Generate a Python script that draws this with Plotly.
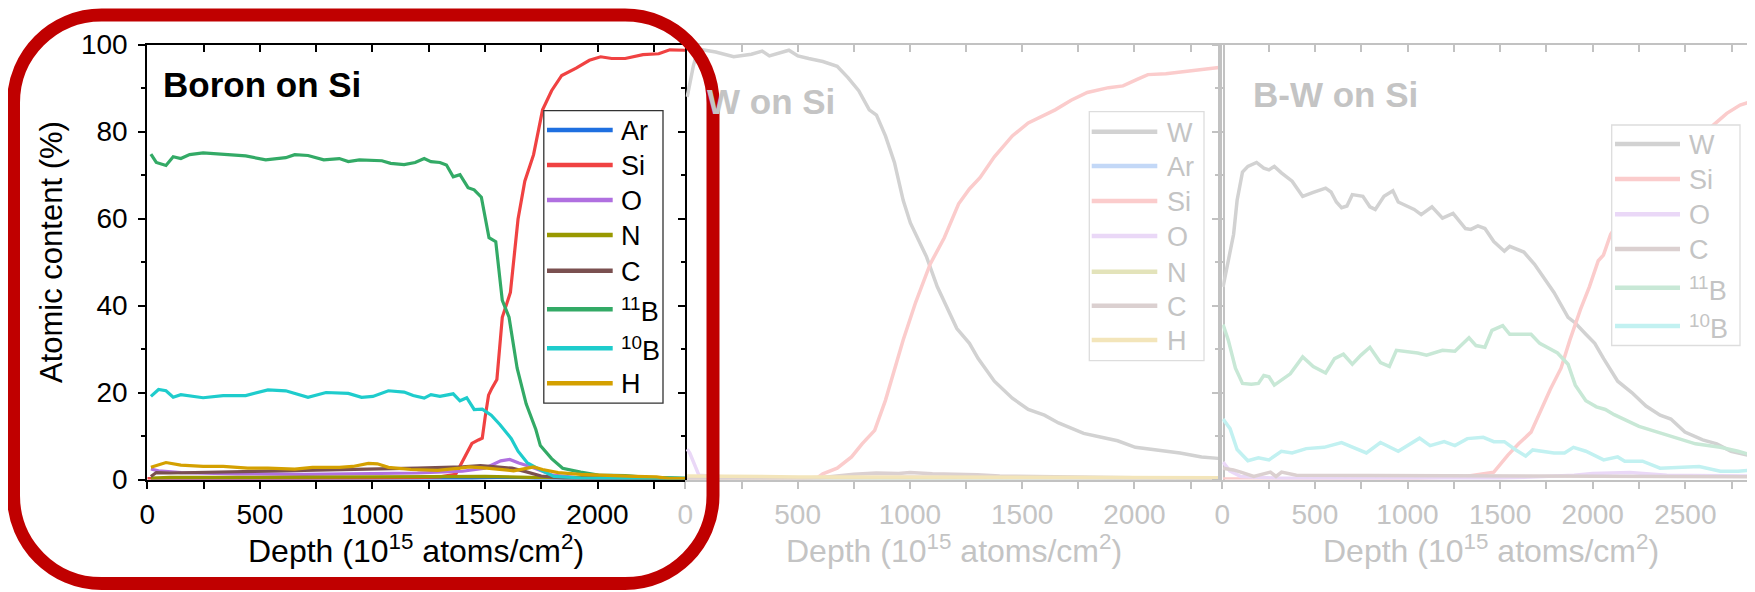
import plotly.graph_objects as go

# ---------------- data ----------------
# Panel 1: Boron on Si
p1_ar_x = [16, 500, 1000, 1400, 1550, 1650, 1750, 1900, 2390]
p1_ar_y = [0.05, 0.05, 0.1, 0.2, 0.4, 0.4, 0.2, 0.1, 0.05]
p1_si_x = [0, 200, 400, 600, 800, 1000, 1200, 1300, 1370, 1405, 1442, 1471, 1488, 1501, 1516, 1531, 1553,
           1577, 1613, 1647, 1677, 1716, 1756, 1796, 1841, 1905, 1964, 2014, 2063, 2123, 2202, 2272, 2321, 2390]
p1_si_y = [0.2, 0.2, 0.2, 0.2, 0.3, 0.3, 0.4, 0.6, 1.2, 4.5, 8.3, 9.1, 9.5, 14.4, 19.4, 21.0, 23.0,
           37.3, 43.0, 59.9, 68.6, 74.7, 85.0, 89.4, 92.9, 94.6, 96.4, 97.2, 96.8, 96.8, 97.7, 97.9, 98.8, 98.7]
p1_o_x = [16, 50, 150, 400, 700, 1000, 1200, 1400, 1500, 1570, 1610, 1650, 1700, 1750, 1800, 1900, 2100, 2390]
p1_o_y = [2.4, 2.0, 1.6, 1.3, 1.2, 1.3, 1.5, 1.9, 2.6, 4.3, 4.6, 3.8, 3.0, 2.0, 1.0, 0.5, 0.3, 0.2]
p1_n_x = [16, 100, 500, 1000, 1500, 1700, 2000, 2390]
p1_n_y = [0.3, 0.5, 0.5, 0.6, 0.7, 0.5, 0.3, 0.2]
p1_c_x = [16, 40, 100, 200, 400, 600, 800, 1000, 1200, 1400, 1480, 1550, 1620, 1680, 1750, 1850, 2000, 2390]
p1_c_y = [0.7, 1.6, 1.5, 1.6, 1.8, 2.0, 2.1, 2.3, 2.6, 2.9, 3.2, 2.9, 2.6, 1.8, 0.8, 0.3, 0.2, 0.1]
p1_b11_x = [16, 40, 83, 115, 149, 188, 248, 337, 437, 526, 615, 655, 714, 784, 853, 893, 942, 1042, 1081, 1141,
            1190, 1230, 1260, 1300, 1329, 1359, 1389, 1425, 1452, 1484, 1518, 1548, 1577, 1607, 1643, 1683, 1726,
            1746, 1796, 1845, 1925, 2004, 2123, 2222, 2390]
p1_b11_y = [74.8, 72.9, 72.2, 74.2, 73.8, 74.7, 75.1, 74.7, 74.4, 73.5, 74.0, 74.7, 74.5, 73.5, 73.8, 73.1, 73.5,
            73.3, 72.7, 72.4, 72.9, 73.8, 73.1, 72.9, 72.3, 69.6, 70.1, 67.1, 66.6, 64.9, 55.6, 54.7, 41.2, 37.3,
            25.6, 17.4, 11.5, 7.8, 4.8, 2.6, 1.7, 1.0, 0.9, 0.5, 0.35]
p1_b10_x = [16, 50, 83, 115, 149, 248, 337, 437, 536, 615, 714, 794, 893, 952, 1002, 1071, 1141, 1181, 1230, 1260,
            1300, 1359, 1389, 1419, 1452, 1488, 1528, 1567, 1617, 1647, 1687, 1746, 1806, 1925, 2123, 2390]
p1_b10_y = [19.1, 20.7, 20.4, 18.9, 19.5, 18.8, 19.3, 19.3, 20.6, 20.4, 18.9, 20.0, 19.8, 18.9, 19.1, 20.4, 20.1,
            19.3, 18.7, 19.5, 19.1, 19.7, 18.1, 18.8, 16.1, 16.2, 14.8, 12.6, 9.4, 6.5, 3.9, 2.2, 0.7, 0.35, 0.26, 0.2]
p1_h_x = [16, 83, 149, 248, 337, 446, 536, 655, 734, 853, 913, 982, 1022, 1071, 1171, 1290, 1389, 1429, 1508,
          1627, 1667, 1716, 1756, 1825, 1925, 2044, 2163, 2262, 2321, 2390]
p1_h_y = [2.8, 3.9, 3.3, 3.0, 3.0, 2.6, 2.6, 2.4, 2.8, 2.8, 3.0, 3.7, 3.6, 2.8, 2.3, 2.1, 2.6, 2.9, 2.6,
          2.0, 2.4, 2.9, 2.3, 1.6, 1.2, 0.9, 0.7, 0.6, 0.2, 0.2]

# Panel 2: W on Si
p2_w_x = [8, 35, 56, 135, 215, 294, 342, 374, 461, 501, 549, 612, 676, 724, 772, 819, 851, 891, 931, 970, 1002,
          1034, 1074, 1122, 1161, 1209, 1265, 1304, 1376, 1456, 1527, 1599, 1662, 1710, 1774, 1853, 1925, 2004,
          2076, 2203, 2299, 2386]
p2_w_y = [88, 95, 99, 98.3, 97.2, 97.8, 98.5, 97.4, 98.7, 97.4, 96.8, 96.1, 95, 92.4, 89.4, 85, 83.8, 79, 72.9,
          64.2, 59, 55.6, 51.2, 44.3, 39.9, 34.7, 31.3, 27.8, 22.6, 18.7, 16.1, 14.8, 13, 11.9, 10.6, 9.7, 8.9,
          7.4, 6.9, 6.1, 5.2, 4.8]
p2_ar_x = [8, 500, 1000, 1500, 2000, 2386]
p2_ar_y = [0.1, 0.1, 0.2, 0.2, 0.1, 0.1]
p2_si_x = [8, 300, 500, 590, 612, 676, 740, 787, 843, 891, 931, 970, 1026, 1090, 1153, 1217, 1265, 1312, 1376,
           1456, 1527, 1599, 1647, 1718, 1790, 1885, 1949, 2012, 2060, 2140, 2235, 2315, 2386]
p2_si_y = [0.1, 0.1, 0.2, 0.5, 1.3, 2.6, 5.2, 8.2, 11.3, 18.2, 25.2, 32.1, 40.8, 49.5, 55.6, 63.4, 66.8, 69.4,
           74.2, 79, 82, 83.8, 85, 87.2, 89, 90.1, 90.5, 92, 93.1, 93.3, 93.9, 94.4, 94.8]
p2_o_x = [8, 20, 60, 200, 600, 1000, 1400, 1800, 2386]
p2_o_y = [7, 6, 1, 0.5, 0.4, 0.6, 0.5, 0.3, 0.3]
p2_n_x = [8, 500, 1000, 1500, 2000, 2386]
p2_n_y = [0.4, 0.3, 0.3, 0.3, 0.2, 0.2]
p2_c_x = [8, 100, 300, 600, 750, 850, 950, 1000, 1100, 1200, 1300, 1400, 1600, 2000, 2386]
p2_c_y = [0.3, 0.3, 0.3, 0.4, 1.2, 1.5, 1.4, 1.6, 1.3, 1.2, 1.1, 0.8, 0.6, 0.4, 0.3]
p2_h_x = [8, 500, 1000, 1500, 2000, 2386]
p2_h_y = [0.8, 0.6, 0.6, 0.5, 0.4, 0.4]

# Panel 3: B-W on Si
p3_w_x = [4, 32, 61, 80, 109, 138, 185, 224, 252, 281, 319, 377, 434, 491, 558, 587, 616, 644, 673, 702, 759, 797,
          826, 873, 921, 950, 1036, 1074, 1132, 1189, 1246, 1313, 1342, 1380, 1418, 1466, 1523, 1552, 1628, 1686,
          1734, 1791, 1867, 1906, 1963, 2011, 2059, 2135, 2211, 2288, 2364, 2422, 2498, 2594, 2670, 2747, 2877]
p3_w_y = [44.3, 50.3, 56.4, 64.2, 70.7, 72, 72.9, 71.6, 71.2, 72, 70.5, 68.6, 65.1, 66, 67, 66.1, 63.8, 62.5, 62.9,
          65.5, 65.1, 62.7, 62.1, 65.1, 66.4, 63.8, 62.1, 60.9, 62.7, 60.1, 61.2, 57.7, 57.5, 58.3, 57.7, 54.7, 52.5,
          53.6, 52.3, 49.5, 46.4, 43, 37.3, 36, 33.4, 31.3, 27.8, 22.6, 20, 16.9, 14.8, 13.9, 10.9, 9.1, 8.2, 6.5, 5.2]
p3_si_x = [4, 500, 1000, 1313, 1466, 1542, 1600, 1667, 1724, 1772, 1829, 1877, 1934, 1982, 2030, 2058, 2097, 2200,
           2300, 2400, 2500, 2600, 2651, 2724, 2796, 2877]
p3_si_y = [0.1, 0.1, 0.2, 0.7, 1.7, 5.6, 8.2, 10.9, 16.5, 20.8, 25.6, 32.1, 39.1, 44.3, 50.3, 51.6, 56.4, 63, 69,
           73, 76.5, 79.5, 81.5, 84.2, 86.1, 87.2]
p3_o_x = [4, 40, 100, 300, 800, 1500, 1900, 2000, 2200, 2400, 2877]
p3_o_y = [4.0, 2.0, 0.7, 0.3, 0.3, 0.3, 1.0, 1.4, 1.6, 1.0, 0.8]
p3_c_x = [4, 60, 100, 170, 260, 290, 320, 400, 800, 1500, 2000, 2400, 2877]
p3_c_y = [2.6, 2.2, 1.7, 0.7, 1.7, 0.7, 1.7, 1.0, 0.9, 0.8, 0.9, 0.7, 0.6]
p3_b11_x = [4, 32, 71, 109, 157, 195, 224, 252, 281, 367, 434, 491, 558, 606, 654, 702, 749, 797, 854, 902, 940,
            988, 1055, 1103, 1189, 1256, 1332, 1370, 1418, 1456, 1514, 1552, 1667, 1714, 1810, 1867, 1906, 1963,
            2020, 2068, 2116, 2250, 2422, 2555, 2689, 2785, 2877]
p3_b11_y = [35.6, 32.1, 25.6, 22.1, 21.9, 22.1, 23.9, 23.6, 21.7, 24.3, 28.2, 26, 24.5, 27.8, 28.8, 26.5, 28.6,
            30.4, 26.9, 26, 29.7, 29.5, 29.1, 28.6, 29.7, 29.5, 32.6, 30.8, 30.4, 34.3, 35.4, 33.4, 33.4, 31.3,
            29.1, 26.5, 21.7, 18.1, 16.7, 16.1, 14.9, 12.2, 10, 8.2, 7.4, 6.5, 5.4]
p3_b10_x = [4, 42, 80, 138, 195, 252, 319, 377, 453, 549, 644, 721, 778, 854, 950, 1065, 1122, 1198, 1256, 1323,
            1409, 1466, 1523, 1581, 1638, 1676, 1791, 1848, 1896, 1963, 2059, 2135, 2173, 2269, 2364, 2575, 2689,
            2785, 2877]
p3_b10_y = [13.9, 11.7, 6.9, 4.3, 5.0, 4.5, 6.5, 6.1, 7.1, 7.4, 8.5, 7.1, 6.1, 8.5, 6.5, 9.5, 7.8, 8.7, 7.8, 9.4,
            9.7, 8.7, 8.7, 6.9, 5.4, 6.8, 6.1, 6.1, 7.4, 6.5, 4.5, 5.2, 4.2, 4.2, 2.6, 3.0, 1.9, 1.9, 2.2]

x_ticks_12 = [0, 500, 1000, 1500, 2000]
x_ticks_3 = [0, 500, 1000, 1500, 2000, 2500]
y_ticks = [0, 20, 40, 60, 80, 100]
panel_titles = ["Boron on Si", "W on Si", "B-W on Si"]
x_title = "Depth (10<sup>15</sup> atoms/cm<sup>2</sup>)"
y_title = "Atomic content (%)"

# ---------------- styles ----------------
FW, FH = 1755, 592
OFF = 8.0  # the page body adds an 8 px margin around the figure
FONT = "Liberation Sans, Arial, sans-serif"
COL = {"W": "#5a5a5a", "Ar": "#1f6fe0", "Si": "#f04242", "O": "#b070e0", "N": "#999900",
       "C": "#7a5050", "11B": "#33aa66", "10B": "#1ecccc", "H": "#d4a000"}
LABEL = {"W": "W", "Ar": "Ar", "Si": "Si", "O": "O", "N": "N", "C": "C",
         "11B": "<sup>11</sup>B", "10B": "<sup>10</sup>B", "H": "H"}
FADE_A = 0.27


def fade(h, a=FADE_A):
    h = h.lstrip("#")
    r, g, b = (int(h[i:i + 2], 16) for i in (0, 2, 4))
    f = lambda c: int(round(255 - a * (255 - c)))
    return "#%02x%02x%02x" % (f(r), f(g), f(b))


def px(x):
    return (x - OFF) / FW


def py(y):
    return 1 - (y - OFF) / FH


AX_FADE = "#c2c2c2"
TXT_FADE = "#c4c4c4"

panels = [
    dict(series=[("Ar", p1_ar_x, p1_ar_y), ("Si", p1_si_x, p1_si_y), ("O", p1_o_x, p1_o_y),
                 ("N", p1_n_x, p1_n_y), ("C", p1_c_x, p1_c_y), ("11B", p1_b11_x, p1_b11_y),
                 ("10B", p1_b10_x, p1_b10_y), ("H", p1_h_x, p1_h_y)],
         faded=False, width=3.2),
    dict(series=[("W", p2_w_x, p2_w_y), ("Ar", p2_ar_x, p2_ar_y), ("Si", p2_si_x, p2_si_y),
                 ("O", p2_o_x, p2_o_y), ("N", p2_n_x, p2_n_y), ("C", p2_c_x, p2_c_y), ("H", p2_h_x, p2_h_y)],
         faded=True, width=3.5),
    dict(series=[("W", p3_w_x, p3_w_y), ("Si", p3_si_x, p3_si_y), ("O", p3_o_x, p3_o_y),
                 ("C", p3_c_x, p3_c_y), ("11B", p3_b11_x, p3_b11_y), ("10B", p3_b10_x, p3_b10_y)],
         faded=True, width=3.5),
]

fig = go.Figure()
for i, p in enumerate(panels):
    ax = "" if i == 0 else str(i + 1)
    for key, xs, ys in p["series"]:
        c = fade(COL[key]) if p["faded"] else COL[key]
        fig.add_trace(go.Scatter(x=xs, y=ys, mode="lines", name=key, showlegend=False,
                                 line=dict(color=c, width=p["width"]),
                                 xaxis="x" + ax, yaxis="y" + ax))
    # empty traces that carry the mirrored (top/right) axes
    fig.add_trace(go.Scatter(x=[None], y=[None], mode="lines", showlegend=False, hoverinfo="skip",
                             xaxis="x" + str(i + 4), yaxis="y" + str(i + 4)))

# geometry (window pixels)
x_dom = [(147.3, 685.3), (685.4, 1222.9), (1222.3, FW + OFF)]
x_rng = [2390, 2394, (FW + OFF - 1222.3) / 0.1852]
y_top, y_bot = 44.6, 479.5
ydom = [py(y_bot), py(y_top)]

layout = dict(width=FW, height=FH, margin=dict(l=0, r=0, t=0, b=0, pad=0, autoexpand=False),
              paper_bgcolor="white", plot_bgcolor="rgba(0,0,0,0)",
              font=dict(family=FONT, size=28, color="black"), showlegend=False)

for i in range(3):
    faded = i > 0
    lc = AX_FADE if faded else "black"
    tc = TXT_FADE if faded else "black"
    ax = "" if i == 0 else str(i + 1)
    dom = [px(x_dom[i][0]), min(1.0, px(x_dom[i][1]))]
    layout["xaxis" + ax] = dict(
        domain=dom, range=[0, x_rng[i]], anchor="y" + ax, showgrid=False, zeroline=False, automargin=False,
        showline=True, linecolor=lc, linewidth=2, ticks="outside", ticklen=7, tickwidth=2, tickcolor=lc,
        tickvals=x_ticks_3 if i == 2 else x_ticks_12, tickfont=dict(size=28, color=tc),
        minor=dict(ticks="outside", ticklen=7, tickwidth=1.5, tickcolor=lc, dtick=250, tick0=0),
        ticklabelstandoff=2)
    yd = dict(domain=ydom, range=[0, 100], anchor="x" + ax, showgrid=False, zeroline=False, automargin=False)
    if i == 0:
        yd.update(showline=True, linecolor="black", linewidth=2, ticks="outside", ticklen=7, tickwidth=2,
                  tickcolor="black", tickvals=y_ticks, tickfont=dict(size=28, color="black"),
                  minor=dict(ticks="outside", ticklen=4, tickwidth=1.5, tickcolor="black", dtick=10),
                  ticklabelstandoff=5)
    elif i == 1:
        yd.update(showline=False, ticks="", showticklabels=False)
    else:
        yd.update(showline=True, linecolor=AX_FADE, linewidth=3.5, ticks="outside", ticklen=7, tickwidth=2,
                  tickcolor=AX_FADE, tickvals=y_ticks, showticklabels=False,
                  minor=dict(ticks="outside", ticklen=4, tickwidth=1.5, tickcolor=AX_FADE, dtick=10))
    layout["yaxis" + ax] = yd
    # mirrored top / right axes with inward ticks
    k = str(i + 4)
    layout["xaxis" + k] = dict(
        overlaying="x" + ax, side="top", anchor="y" + k, range=[0, x_rng[i]], showgrid=False, zeroline=False,
        automargin=False,
        showline=True, linecolor=lc, linewidth=2, ticks="inside", ticklen=7, tickwidth=2, tickcolor=lc,
        tickvals=x_ticks_3 if i == 2 else x_ticks_12, showticklabels=False,
        minor=dict(ticks="inside", ticklen=7, tickwidth=1.5, tickcolor=lc, dtick=250, tick0=0))
    yk = dict(overlaying="y" + ax, side="right", anchor="x" + k, range=[0, 100], showgrid=False,
              zeroline=False, showticklabels=False, automargin=False)
    if i < 2:
        yk.update(showline=True, linecolor=lc, linewidth=2, ticks="inside", ticklen=7, tickwidth=2,
                  tickcolor=lc, tickvals=y_ticks,
                  minor=dict(ticks="inside", ticklen=4, tickwidth=1.5, tickcolor=lc, dtick=10))
    else:
        yk.update(showline=False, ticks="")
    layout["yaxis" + k] = yk

fig.update_layout(**layout)

annotations = []
shapes = []

# axis titles
annotations.append(dict(text=y_title, x=px(51), y=py(252), xref="paper", yref="paper", showarrow=False,
                        textangle=-90, font=dict(size=31, color="black"), xanchor="center", yanchor="middle"))
for i, (cx, col) in enumerate([(416.3, "black"), (954.0, TXT_FADE), (1491.0, TXT_FADE)]):
    annotations.append(dict(text=x_title, x=px(cx), y=py(549), xref="paper", yref="paper", showarrow=False,
                            font=dict(size=32, color=col), xanchor="center", yanchor="middle"))

# panel titles
for (tx, ty), t, col in zip([(161, 84), (705, 101), (1251, 95)], panel_titles, ["black", TXT_FADE, TXT_FADE]):
    annotations.append(dict(text="<b>%s</b>" % t, x=px(tx), y=py(ty), xref="paper", yref="paper",
                            showarrow=False, font=dict(size=35, color=col), xanchor="left", yanchor="middle"))

# legends (boxes with line samples and labels)
legends = [
    dict(box=(543.8, 110.6, 663.0, 403.2), line=(547, 612.7), lab=619.3,
         rows=[130, 165, 200, 235, 270.7, 309.3, 348.3, 383.3], border="#333333", faded=False),
    dict(box=(1089.3, 111.7, 1204.0, 360.6), line=(1091.7, 1157.3), lab=1165,
         rows=[131.7, 166, 201, 236, 271.7, 305.7, 340], border="#dddddd", faded=True),
    dict(box=(1611.7, 125.0, 1740.0, 345.5), line=(1615, 1680), lab=1687.3,
         rows=[144, 179, 214.3, 249, 287.7, 326], border="#dddddd", faded=True),
]
for p, lg in zip(panels, legends):
    x0, y0, x1, y1 = lg["box"]
    shapes.append(dict(type="rect", xref="paper", yref="paper", x0=px(x0), x1=px(x1), y0=py(y1), y1=py(y0),
                       line=dict(color=lg["border"], width=1.3), fillcolor="white", layer="above"))
    for (key, _, _), ry in zip(p["series"], lg["rows"]):
        c = fade(COL[key]) if lg["faded"] else COL[key]
        shapes.append(dict(type="line", xref="paper", yref="paper", x0=px(lg["line"][0]), x1=px(lg["line"][1]),
                           y0=py(ry), y1=py(ry), line=dict(color=c, width=4.5), layer="above"))
        annotations.append(dict(text=LABEL[key], x=px(lg["lab"]), y=py(ry + 1), xref="paper", yref="paper",
                                showarrow=False, xanchor="left", yanchor="middle",
                                font=dict(size=27, color=TXT_FADE if lg["faded"] else "black")))

# red rounded highlight frame
L, T, R, B, r = 13.5, 15.0, 713.0, 583.5, 88.0
k = 0.5523 * r


def P(x, y):
    return "%.5f,%.5f" % (px(x), py(y))


path = ("M" + P(L + r, T) + " L" + P(R - r, T) +
        " C" + P(R - r + k, T) + " " + P(R, T + r - k) + " " + P(R, T + r) +
        " L" + P(R, B - r) +
        " C" + P(R, B - r + k) + " " + P(R - r + k, B) + " " + P(R - r, B) +
        " L" + P(L + r, B) +
        " C" + P(L + r - k, B) + " " + P(L, B - r + k) + " " + P(L, B - r) +
        " L" + P(L, T + r) +
        " C" + P(L, T + r - k) + " " + P(L + r - k, T) + " " + P(L + r, T) + " Z")
shapes.append(dict(type="path", xref="paper", yref="paper", path=path,
                   line=dict(color="#c00000", width=13), layer="above"))

fig.update_layout(annotations=annotations, shapes=shapes)
fig.write_html("out.html")
